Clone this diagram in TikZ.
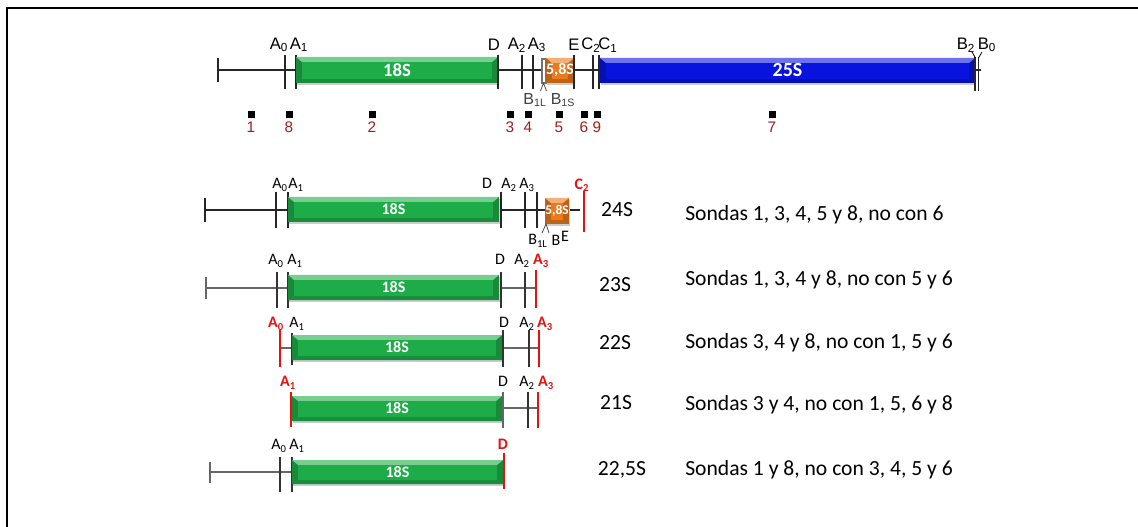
\documentclass[tikz,border=0pt]{standalone}
\usepackage{fontspec}
\setmainfont{Carlito}
\newfontfamily\arialf{Liberation Sans}
\definecolor{gcol}{RGB}{30,172,72}
\definecolor{bcol}{RGB}{8,20,222}
\definecolor{ocol}{RGB}{234,122,30}
\definecolor{rcol}{RGB}{232,16,16}
\definecolor{pcol}{RGB}{160,30,30}
\newcommand\sbs[1]{\textsubscript{#1}}
\newcommand\mybar[8]{%
 \fill[black!20] (#2+1,#3+2) rectangle (#4+1,#5+2);
 \fill[#6!80!black] (#2,#3) rectangle (#4,#5);
 \fill[#6!60!white] (#2,#3) -- (#4,#3) -- (#4-6,#3+5) -- (#2+6,#3+5) -- cycle;
 \fill[#6!82!black] (#2,#5) -- (#4,#5) -- (#4-6,#5-4) -- (#2+6,#5-4) -- cycle;
 \fill[#6] (#2+6,#3+5) rectangle (#4-6,#5-4);
 \node[bartxt, font=\bfseries\fontsize{#7}{#7}\selectfont] (#1) at ({(#2+#4)/2},{(#3+#5)/2}) {#8};
}
\newcommand\tk[4]{\draw[#1] (#2,#3) -- (#2,#4);}
\newcommand\probe[3]{%
 \fill[black] (#2-3.5,111) rectangle (#2+3.5,118);
 \node[plab] (#1) at (#2,127.5) {#3};}
\begin{document}
\begin{tikzpicture}[x=0.75pt,y=-0.75pt,
  ln/.style={line width=1.1pt, draw=black!85},
  thin/.style={line width=0.8pt, draw=black!60},
  tkl/.style={line width=0.8pt, draw=black!80},
  rtick/.style={line width=2.2pt, draw=rcol},
  lab/.style={font=\arialf\fontsize{12.5}{13}\selectfont, inner sep=0},
  glab/.style={font=\arialf\fontsize{12}{13}\selectfont, inner sep=0, text=black!75},
  slab/.style={font=\fontsize{12}{13}\selectfont, inner sep=0},
  rlab/.style={font=\bfseries\fontsize{12}{13}\selectfont, inner sep=0, text=rcol},
  plab/.style={font=\arialf\fontsize{11.5}{12}\selectfont, inner sep=0, text=pcol},
  bartxt/.style={text=white, inner sep=0},
  big/.style={font=\fontsize{16.2}{18}\selectfont, inner sep=0},
  desc/.style={font=\fontsize{16.2}{18}\selectfont, inner sep=0, anchor=west}]
\useasboundingbox (0,0) rectangle (1138,527);
\fill[white] (0,0) rectangle (1138,527);
% frame
\draw[line width=1.5pt] (7,527) -- (7,8) -- (1138,8);

% ===== top row =====
\coordinate (t0) at (218,70);
\coordinate (t1) at (296,70);
\coordinate (t2) at (498,70);
\coordinate (t3) at (542,70);
\coordinate (t4) at (574,70);
\coordinate (t5) at (600,70);
\coordinate (t6) at (975,70);
\coordinate (t7) at (981,70);
\draw[ln] (t0) -- (t1);
\draw[ln] (t2) -- (t3);
\draw[ln] (t4) -- (t5);
\draw[ln] (t6) -- (t7);
\tk{ln}{218}{58}{82}
\tk{ln}{285}{55}{89}
\tk{ln}{296}{55}{89}
\mybar{s18a}{296}{57}{498}{83}{gcol}{14}{18S}
\tk{ln}{498}{55}{89}
\tk{ln}{522}{55}{89}
\tk{ln}{533}{55}{89}
\draw[line width=0.8pt, draw=black!55, fill=white] (542,59) rectangle (546,83);
\mybar{s58a}{546}{58}{574}{83}{ocol}{12}{5,8S}
\tk{ln}{574}{55}{89}
\tk{ln}{593}{55}{89}
\tk{ln}{599}{55}{89}
\mybar{s25a}{600}{58}{975}{83}{bcol}{15}{25S}
\tk{ln}{975}{57}{91}
\tk{ln}{978.5}{57}{91}
\draw[line width=0.6pt] (972,52) -- (975.5,58);
\draw[line width=0.6pt] (982,52) -- (978.5,58);
\draw[line width=0.6pt, black!70] (540.5,91) -- (543.5,83) -- (546.5,91);
\node[lab] (lA0) at (279,45) {A\sbs{0}};
\node[lab] (lA1) at (299,45) {A\sbs{1}};
\node[lab] (lD) at (494,45) {D};
\node[lab] (lA2) at (517,45) {A\sbs{2}};
\node[lab] (lA3) at (537,45) {A\sbs{3}};
\node[lab] (lE) at (574,45) {E};
\node[lab] (lC2) at (591,45) {C\sbs{2}};
\node[lab] (lC1) at (608,45) {C\sbs{1}};
\node[lab] (lB2) at (966,45) {B\sbs{2}};
\node[lab] (lB0) at (987,45) {B\sbs{0}};
\node[glab] (lB1L) at (535,100) {B\sbs{1L}};
\node[glab] (lB1S) at (563,100) {B\sbs{1S}};
% probes
\probe{p1}{251}{1}
\probe{p8}{289}{8}
\probe{p2}{372}{2}
\probe{p3}{510}{3}
\probe{p4}{528}{4}
\probe{p5}{559}{5}
\probe{p6}{584}{6}
\probe{p9}{597}{9}
\probe{p7}{772}{7}

% ===== row 24S =====
\coordinate (a0) at (205,210);
\coordinate (a1) at (288,210);
\coordinate (a2) at (501,210);
\coordinate (a3) at (580,210);
\draw[ln] (a0) -- (a1);
\draw[ln] (a2) -- (a3);
\tk{ln}{205}{198}{222}
\tk{ln}{276}{192}{228}
\tk{ln}{288}{192}{228}
\mybar{s18b}{288}{197}{499}{222}{gcol}{12}{18S}
\tk{ln}{501}{192}{228}
\tk{ln}{525}{192}{228}
\tk{ln}{537}{192}{228}
\mybar{s58b}{545}{198}{569}{224}{ocol}{10}{5,8S}
\draw[rtick] (584,191) -- (584,232);
\draw[line width=0.6pt, black!70] (542,233) -- (546,224) -- (549,233);
\node[slab] (bA0) at (280,185) {A\sbs{0}};
\node[slab] (bA1) at (296,185) {A\sbs{1}};
\node[slab] (bD) at (487,183) {D};
\node[slab] (bA2) at (509,185) {A\sbs{2}};
\node[slab] (bA3) at (527,185) {A\sbs{3}};
\node[rlab] (bC2) at (582,185) {C\sbs{2}};
\node[slab] (bB1L) at (538,241) {B\sbs{1L}};
\node[slab] (bB) at (556,240) {B};
\node[slab] (bE) at (565,236) {E};

% ===== row 23S =====
\coordinate (c0) at (206,288);
\coordinate (c1) at (288,288);
\coordinate (c2) at (501,288);
\coordinate (c3) at (536,288);
\draw[thin] (c0) -- (c1);
\draw[thin] (c2) -- (c3);
\tk{thin}{206}{277}{299}
\tk{tkl}{277}{272}{308}
\tk{tkl}{288}{272}{308}
\mybar{s18c}{288}{275}{499}{300}{gcol}{12}{18S}
\tk{tkl}{501}{272}{308}
\tk{tkl}{525}{272}{308}
\draw[rtick] (536,270) -- (536,308);
\node[slab] (cA0) at (276,261) {A\sbs{0}};
\node[slab] (cA1) at (295,261) {A\sbs{1}};
\node[slab] (cD) at (500,259) {D};
\node[slab] (cA2) at (522,261) {A\sbs{2}};
\node[rlab] (cA3) at (541,261) {A\sbs{3}};

% ===== row 22S =====
\coordinate (d0) at (280,348);
\coordinate (d1) at (292,348);
\coordinate (d2) at (503,348);
\coordinate (d3) at (539,348);
\draw[thin] (d0) -- (d1);
\draw[thin] (d2) -- (d3);
\draw[rtick] (280,330) -- (280,367);
\tk{tkl}{292}{333}{365}
\mybar{s18d}{292}{335}{502}{360}{gcol}{12}{18S}
\tk{tkl}{503}{330}{367}
\tk{tkl}{529}{330}{367}
\draw[rtick] (539,330) -- (539,367);
\node[rlab] (dA0) at (276,324) {A\sbs{0}};
\node[slab] (dA1) at (297,324) {A\sbs{1}};
\node[slab] (dD) at (504,322) {D};
\node[slab] (dA2) at (527,324) {A\sbs{2}};
\node[rlab] (dA3) at (545,324) {A\sbs{3}};

% ===== row 21S =====
\coordinate (e2) at (503,408);
\coordinate (e3) at (538,408);
\draw[thin] (e2) -- (e3);
\draw[rtick] (291,392) -- (291,427);
\mybar{s18e}{292}{396}{502}{421}{gcol}{12}{18S}
\tk{thin}{503}{392}{428}
\tk{tkl}{528}{392}{428}
\draw[rtick] (538,392) -- (538,428);
\node[rlab] (eA1) at (288,383) {A\sbs{1}};
\node[slab] (eD) at (503,381) {D};
\node[slab] (eA2) at (527,383) {A\sbs{2}};
\node[rlab] (eA3) at (546,383) {A\sbs{3}};

% ===== row 22,5S =====
\coordinate (f0) at (210,472);
\coordinate (f1) at (292,472);
\draw[thin] (f0) -- (f1);
\tk{thin}{210}{462}{483}
\tk{tkl}{280}{457}{492}
\tk{tkl}{292}{457}{492}
\mybar{s18f}{292}{460}{503}{484}{gcol}{12}{18S}
\draw[rtick] (504,453) -- (504,489);
\node[slab] (fA0) at (279,446) {A\sbs{0}};
\node[slab] (fA1) at (297,446) {A\sbs{1}};
\node[rlab] (fD) at (503,444) {D};

% ===== right texts =====
\node[big] (n24) at (617,210) {24S};
\node[big] (n23) at (615,285) {23S};
\node[big] (n22) at (615,343) {22S};
\node[big] (n21) at (616,403) {21S};
\node[big] (n225) at (622,470) {22,5S};
\node[desc] (t24) at (685,215) {Sondas 1, 3, 4, 5 y 8, no con 6};
\node[desc] (t23) at (685,280) {Sondas 1, 3, 4 y 8, no con 5 y 6};
\node[desc] (t22) at (685,343) {Sondas 3, 4 y 8, no con 1, 5 y 6};
\node[desc] (t21) at (685,405) {Sondas 3 y 4, no con 1, 5, 6 y 8};
\node[desc] (t225) at (685,470) {Sondas 1 y 8, no con 3, 4, 5 y 6};
\end{tikzpicture}
\end{document}
